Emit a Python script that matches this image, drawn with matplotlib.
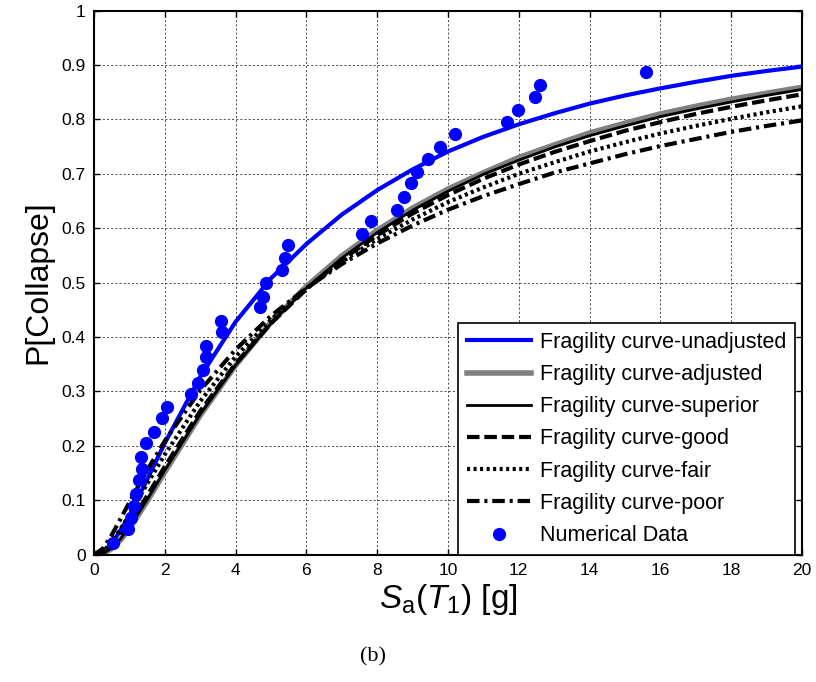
import matplotlib
matplotlib.use("Agg")
import matplotlib.pyplot as plt

plt.rcParams['font.family'] = ['Liberation Sans', 'DejaVu Sans']
plt.rcParams['mathtext.fontset'] = 'custom'
plt.rcParams['mathtext.rm'] = 'Liberation Sans'
plt.rcParams['mathtext.it'] = 'Liberation Sans:italic'
plt.rcParams['lines.scale_dashes'] = False

# fragility curves
sa = [0, 0.25, 0.5, 0.75, 1, 1.5, 2, 3, 4, 5, 6, 7, 8, 9, 10, 11, 12, 13, 14, 15,
      16, 17, 18, 19, 20]
p_unadjusted = [0, 0.004, 0.02, 0.045, 0.072, 0.138, 0.205, 0.327, 0.428, 0.508, 0.571,
                0.625, 0.670, 0.708, 0.741, 0.768, 0.791, 0.811, 0.829, 0.844,
                0.857, 0.869, 0.880, 0.889, 0.897]
p_adjusted = [0, 0.002, 0.011, 0.027, 0.048, 0.098, 0.152, 0.256, 0.348, 0.427, 0.493,
              0.549, 0.596, 0.637, 0.672, 0.702, 0.730, 0.753, 0.775, 0.793,
              0.810, 0.824, 0.837, 0.848, 0.859]
p_superior = [0, 0.002, 0.012, 0.029, 0.050, 0.101, 0.155, 0.258, 0.348, 0.425, 0.490,
              0.545, 0.592, 0.633, 0.668, 0.699, 0.725, 0.749, 0.770, 0.788,
              0.805, 0.819, 0.832, 0.844, 0.855]
p_good = [0, 0.003, 0.014, 0.033, 0.056, 0.108, 0.162, 0.264, 0.351, 0.425, 0.488,
          0.542, 0.587, 0.627, 0.661, 0.691, 0.717, 0.740, 0.760, 0.779,
          0.795, 0.810, 0.823, 0.835, 0.846]
p_fair = [0, 0.005, 0.023, 0.047, 0.074, 0.130, 0.184, 0.282, 0.364, 0.432, 0.489,
          0.538, 0.580, 0.616, 0.648, 0.675, 0.700, 0.721, 0.741, 0.758,
          0.774, 0.788, 0.801, 0.813, 0.824]
p_poor = [0, 0.011, 0.036, 0.066, 0.096, 0.155, 0.209, 0.302, 0.377, 0.439, 0.490,
          0.534, 0.572, 0.605, 0.634, 0.659, 0.681, 0.702, 0.719, 0.736,
          0.751, 0.764, 0.777, 0.788, 0.798]

# numerical data points
num_sa = [0.55, 0.97, 1.04, 1.14, 1.18, 1.28, 1.35, 1.32, 1.46, 1.69, 1.93, 2.05,
          2.73, 2.95, 3.07, 3.16, 3.16, 3.61, 3.59, 4.69, 4.78, 4.86, 5.30, 5.40,
          5.49, 7.56, 7.82, 8.57, 8.76, 8.95, 9.12, 9.44, 9.77, 10.20, 11.66, 11.99,
          12.46, 12.59, 15.58]
num_p = [0.021, 0.047, 0.067, 0.090, 0.111, 0.137, 0.158, 0.180, 0.205, 0.226, 0.251,
         0.272, 0.295, 0.315, 0.340, 0.364, 0.384, 0.410, 0.430, 0.455, 0.474, 0.500,
         0.523, 0.545, 0.569, 0.590, 0.614, 0.634, 0.658, 0.684, 0.704, 0.727, 0.749,
         0.773, 0.795, 0.817, 0.842, 0.864, 0.887]

fig = plt.figure(figsize=(8.16, 6.82), dpi=100)
ax = fig.add_axes([0.1152, 0.1867, 0.8676, 0.7978])

ax.plot(sa, p_unadjusted, color='#0000ff', lw=3, label='Fragility curve-unadjusted')
ax.plot(sa, p_adjusted, color='#808080', lw=4, label='Fragility curve-adjusted')
ax.plot(sa, p_superior, color='black', lw=2, label='Fragility curve-superior')
ax.plot(sa, p_good, color='black', lw=3, dashes=(9, 3.5), label='Fragility curve-good')
ax.plot(sa, p_fair, color='black', lw=3, dashes=(2.2, 2.5), label='Fragility curve-fair')
ax.plot(sa, p_poor, color='black', lw=3, dashes=(9, 3.5, 2.2, 3.5), label='Fragility curve-poor')
ax.plot(num_sa, num_p, 'o', color='#0000ff', ms=8.5, label='Numerical Data')

ax.set_xlim(0, 20)
ax.set_ylim(0, 1)
ax.set_xticks(range(0, 21, 2))
ax.set_yticks([i / 10 for i in range(11)])
ax.set_yticklabels(['0', '0.1', '0.2', '0.3', '0.4', '0.5', '0.6', '0.7', '0.8', '0.9', '1'])
ax.grid(True, color='0.3', lw=0.7, linestyle=(0, (1.5, 1.5)))
ax.tick_params(direction='in', top=True, right=True, length=4, width=1, labelsize=12.5, pad=6)
for s in ax.spines.values():
    s.set_linewidth(1.5)

ax.set_ylabel('P[Collapse]', fontsize=23, labelpad=6)
ax.set_xlabel(r'$S_\mathrm{a}(T_1)$ [g]', fontsize=24, labelpad=3)

leg = ax.legend(loc='lower left', bbox_to_anchor=(0.514, 0.0), borderaxespad=0,
                fontsize=15.5, handlelength=3.0, handletextpad=0.4, labelspacing=0.52,
                borderpad=0.4, fancybox=False, framealpha=1, edgecolor='black')
leg.get_frame().set_linewidth(1.2)

fig.text(0.457, 0.03, '(b)', fontsize=16, family='Liberation Serif', ha='center')

fig.savefig('out.png', dpi=100)
